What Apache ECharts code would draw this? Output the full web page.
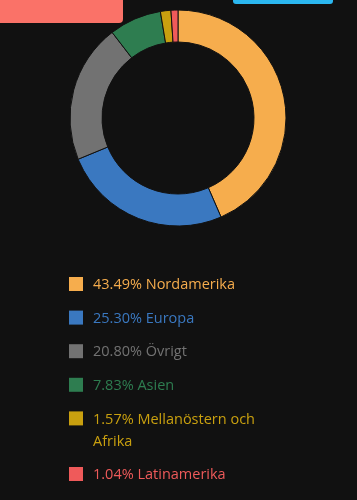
<!DOCTYPE html>
<html><head><meta charset="utf-8">
<script src="https://cdn.jsdelivr.net/npm/echarts@6/dist/echarts.min.js"></script>
<style>html,body{margin:0;padding:0;background:#111111;}#c{width:357px;height:500px;}</style>
</head><body><div id="c"></div>
<script>
const categories = ["Nordamerika", "Europa", "Övrigt", "Asien", "Mellanöstern och Afrika", "Latinamerika"];
const values = [43.49, 25.30, 20.80, 7.83, 1.57, 1.04];
const labels = ["43.49% Nordamerika", "25.30% Europa", "20.80% Övrigt", "7.83% Asien", "1.57% Mellanöstern och\nAfrika", "1.04% Latinamerika"];
const colors = ["#F6AD4D", "#3A78C0", "#727272", "#2E7D50", "#C9A00F", "#EF5A5A"];

const legendItems = [];
let y = 284;
labels.forEach((lab, i) => {
  const lines = lab.split('\n').length;
  legendItems.push({type: 'rect', shape: {x: 69, y: y - 7, width: 14, height: 14}, style: {fill: colors[i]}});
  legendItems.push({type: 'text', x: 93, y: y - 10, style: {
    text: lab, fill: colors[i], font: '14.5px "Open Sans"', lineHeight: 22,
    verticalAlign: 'top'
  }});
  y += 33.6 + (lines - 1) * 22;
});

const chart = echarts.init(document.getElementById('c'), null, {renderer: 'canvas'});
chart.setOption({
  backgroundColor: '#111111',
  animation: false,
  graphic: [
    {type: 'rect', shape: {x: -10, y: -10, width: 133, height: 33, r: 4}, style: {fill: '#FA7268'}},
    {type: 'rect', shape: {x: 233, y: -10, width: 100, height: 14, r: 3}, style: {fill: '#2BB7F0'}}
  ].concat(legendItems),
  series: [{
    type: 'pie',
    center: [178, 118],
    radius: [76, 108],
    startAngle: 90,
    clockwise: true,
    label: {show: false},
    labelLine: {show: false},
    itemStyle: {borderColor: '#111111', borderWidth: 1},
    data: categories.map((c, i) => ({name: c, value: values[i], itemStyle: {color: colors[i]}}))
  }]
});
</script></body></html>
